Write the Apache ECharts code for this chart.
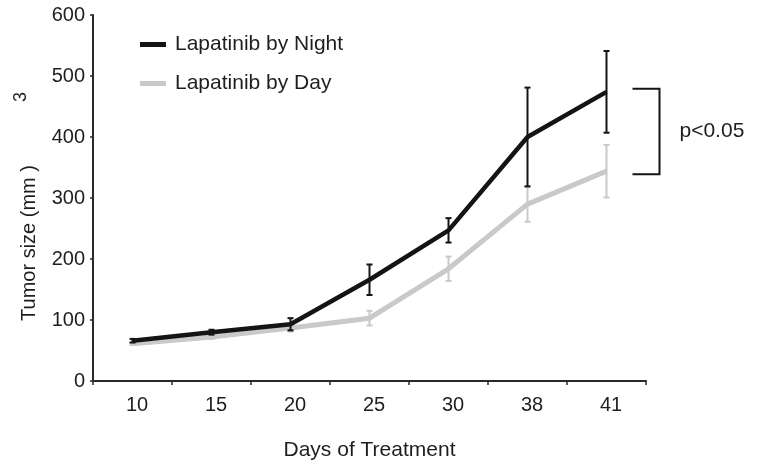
<!DOCTYPE html>
<html>
<head>
<meta charset="utf-8">
<script src="https://cdn.jsdelivr.net/npm/echarts@6/dist/echarts.min.js"></script>
<style>
  html, body { margin: 0; padding: 0; background: #fff; }
  #chart { width: 759px; height: 463px; }
</style>
</head>
<body>
<div id="chart"></div>
<script>
// Tumor growth under two dosing schedules (mean ± error)
const days = ['10', '15', '20', '25', '30', '38', '41'];
const nightMean = [66, 80, 93, 166, 247, 400, 474];
const nightErr  = [3, 4, 10, 25, 20, 81, 67];
const dayMean   = [61, 72, 87, 103, 184, 290, 344];
const dayErr    = [2, 3, 6, 12, 20, 29, 43];
const seriesNames = ['Lapatinib by Night', 'Lapatinib by Day'];
const sigLabel = 'p<0.05';

const FONT = '"Liberation Sans", Arial, sans-serif';
const BLACK = '#141414';
const GREY = '#c9c9c9';
const TEXT = '#1e1e1e';

function errRows(mean, err) {
  return mean.map((m, i) => [i, m - err[i], m + err[i]]);
}

function errorBars(color) {
  return function (params, api) {
    const x = api.value(0);
    const lo = api.coord([x, api.value(1)]);
    const hi = api.coord([x, api.value(2)]);
    const cap = 3;
    const st = { stroke: color, lineWidth: 2 };
    return {
      type: 'group',
      children: [
        { type: 'line', shape: { x1: lo[0], y1: lo[1], x2: hi[0], y2: hi[1] }, style: st },
        { type: 'line', shape: { x1: hi[0] - cap, y1: hi[1], x2: hi[0] + cap, y2: hi[1] }, style: st },
        { type: 'line', shape: { x1: lo[0] - cap, y1: lo[1], x2: lo[0] + cap, y2: lo[1] }, style: st }
      ]
    };
  };
}

// significance bracket spanning the final two means
function bracket(params, api) {
  const x = api.value(0);
  const top = api.coord([x, api.value(1)]);
  const bot = api.coord([x, api.value(2)]);
  const x0 = top[0] + 26, x1 = top[0] + 53;
  const y0 = top[1] - 3, y1 = bot[1] + 3;
  return {
    type: 'group',
    children: [
      {
        type: 'polyline',
        shape: { points: [[x0, y0], [x1, y0], [x1, y1], [x0, y1]] },
        style: { stroke: BLACK, lineWidth: 2, fill: null }
      },
      {
        type: 'text',
        x: top[0] + 73,
        y: (y0 + y1) / 2,
        style: { text: sigLabel, font: '21px ' + FONT, fill: TEXT, align: 'left', verticalAlign: 'middle' }
      }
    ]
  };
}

const chart = echarts.init(document.getElementById('chart'), null, { renderer: 'canvas' });
const last = days.length - 1;

chart.setOption({
  animation: false,
  backgroundColor: '#ffffff',
  grid: { left: 93, right: 113, top: 15, bottom: 82, containLabel: false, outerBoundsMode: 'none' },
  legend: {
    orient: 'vertical',
    left: 135,
    top: 29,
    itemGap: 18,
    itemWidth: 26,
    itemHeight: 5,
    icon: 'rect',
    data: seriesNames,
    textStyle: { fontFamily: FONT, fontSize: 21, color: TEXT, padding: [0, 0, 0, 4] }
  },
  xAxis: {
    type: 'category',
    data: days,
    boundaryGap: true,
    name: 'Days of Treatment',
    nameLocation: 'middle',
    nameGap: 59,
    nameTextStyle: { fontFamily: FONT, fontSize: 21, color: TEXT },
    axisLine: { lineStyle: { color: '#2a2a2a', width: 2 } },
    axisTick: { show: true, length: 4, lineStyle: { color: '#2a2a2a', width: 1.5 } },
    axisLabel: { fontFamily: FONT, fontSize: 20, color: TEXT, margin: 14, padding: [0, 0, 0, 9] },
    splitLine: { show: false }
  },
  yAxis: {
    type: 'value',
    min: 0,
    max: 600,
    interval: 100,
    axisLine: { show: true, lineStyle: { color: '#2a2a2a', width: 2 } },
    axisTick: { show: true, length: 3, lineStyle: { color: '#2a2a2a', width: 1.5 } },
    axisLabel: { fontFamily: FONT, fontSize: 20, color: TEXT, margin: 8 },
    splitLine: { show: false }
  },
  graphic: [
    {
      type: 'text',
      x: 29, y: 243,
      rotation: Math.PI / 2,
      style: { text: 'Tumor size (mm )', font: '20px ' + FONT, fill: TEXT, align: 'center', verticalAlign: 'middle' }
    },
    {
      type: 'text',
      x: 21, y: 97,
      rotation: Math.PI / 2,
      style: { text: '3', font: '18px ' + FONT, fill: TEXT, align: 'center', verticalAlign: 'middle' }
    }
  ],
  series: [
    {
      name: seriesNames[1],
      type: 'line',
      data: dayMean,
      symbol: 'none',
      color: GREY,
      lineStyle: { color: GREY, width: 5 },
      z: 2
    },
    {
      type: 'custom',
      renderItem: errorBars(GREY),
      data: errRows(dayMean, dayErr),
      encode: { x: 0, y: [1, 2] },
      z: 3
    },
    {
      name: seriesNames[0],
      type: 'line',
      data: nightMean,
      symbol: 'none',
      color: BLACK,
      lineStyle: { color: BLACK, width: 4.5 },
      z: 4
    },
    {
      type: 'custom',
      renderItem: errorBars(BLACK),
      data: errRows(nightMean, nightErr),
      encode: { x: 0, y: [1, 2] },
      z: 5
    },
    {
      type: 'custom',
      renderItem: bracket,
      data: [[last, nightMean[last], dayMean[last]]],
      encode: { x: 0, y: [1, 2] },
      clip: false,
      z: 6
    }
  ]
});
</script>
</body>
</html>
